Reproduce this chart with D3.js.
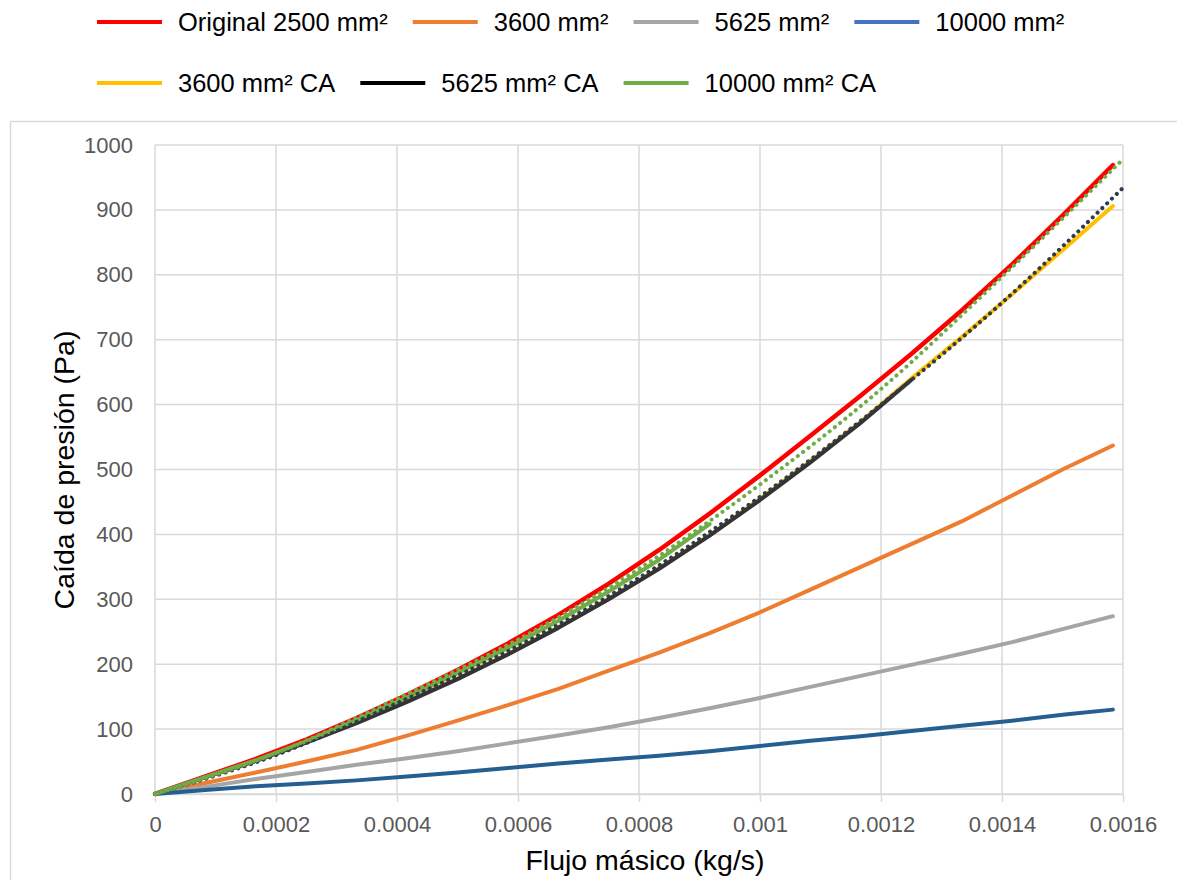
<!DOCTYPE html>
<html>
<head>
<meta charset="utf-8">
<script src="https://cdn.jsdelivr.net/npm/d3@7"></script>
<style>
  html, body { margin: 0; padding: 0; background: #fff; }
  svg { display: block; font-family: "Liberation Sans", Arial, sans-serif; }
</style>
</head>
<body>
<svg id="chart" width="1177" height="880"></svg>
<script>
// Mass flow values (kg/s) at which every series was evaluated
const massFlow = [0, 0.0000833, 0.0001667, 0.00025, 0.0003333, 0.0004167, 0.0005,
  0.0005833, 0.0006667, 0.00075, 0.0008333, 0.0009167, 0.001, 0.0010833,
  0.0011667, 0.00125, 0.0013333, 0.0014167, 0.0015, 0.0015833];

// Pressure drop (Pa) for each channel cross-section
const original2500 = [0, 27, 54, 84, 117, 153, 191, 232, 276, 324, 376, 432, 491, 552, 614, 678, 745, 816, 891, 969];
const area3600 = [0, 17, 33, 50, 68, 90, 113, 137, 162, 190, 218, 248, 280, 315, 350, 385, 420, 460, 500, 537];
const area5625 = [0, 11, 23, 34, 45, 55, 66, 78, 90, 103, 117, 132, 148, 165, 182, 199, 216, 234, 254, 274];
const area10000 = [0, 6, 12, 16, 21, 27, 33, 40, 47, 53, 59, 66, 74, 82, 89, 97, 105, 113, 122, 130];
const area3600CA = [0, 26, 51, 80, 110, 143, 178, 216, 257, 301, 348, 399, 455, 513, 574, 640, 704, 770, 838, 906];
const area5625CA = [0, 26, 51, 79, 109, 142, 177, 215, 256, 300, 347, 398, 453, 511, 572, 638];
const area10000CA = [0, 26, 52, 81, 114, 149, 186, 225, 267, 312, 361, 416];

// Trend curves of the CA series, extended over the full flow range
const trendFlow = [0, 0.0002, 0.0004, 0.0006, 0.0008, 0.001, 0.0012, 0.0014, 0.0016];
const trend5625CA = [0, 60, 140, 228, 333, 458, 600, 757, 934];
const trend10000CA = [0, 63, 147, 238, 347, 477, 624, 797, 978];

// Axis ticks
const xTicks = [0, 0.0002, 0.0004, 0.0006, 0.0008, 0.001, 0.0012, 0.0014, 0.0016];
const xTickLabels = ["0", "0.0002", "0.0004", "0.0006", "0.0008", "0.001", "0.0012", "0.0014", "0.0016"];
const yTicks = [0, 100, 200, 300, 400, 500, 600, 700, 800, 900, 1000];

const seriesNames = ["Original 2500 mm²", "3600 mm²", "5625 mm²", "10000 mm²", "3600 mm² CA", "5625 mm² CA", "10000 mm² CA"];
const seriesValues = [original2500, area3600, area5625, area10000, area3600CA, area5625CA, area10000CA];
const lineColors = ["#ff0000", "#ed7d31", "#a5a5a5", "#255e91", "#ffc000", "#333333", "#70ad47"];
const legendColors = ["#ff0000", "#ed7d31", "#a5a5a5", "#4472c4", "#ffc000", "#000000", "#70ad47"];

const svg = d3.select("#chart");
const plot = { left: 155, right: 1123, top: 145, bottom: 794 };

const x = d3.scaleLinear().domain([0, 0.0016]).range([plot.left, plot.right]);
const y = d3.scaleLinear().domain([0, 1000]).range([plot.bottom, plot.top]);

// Chart area frame
svg.append("rect")
  .attr("x", 10.5).attr("y", 121.5)
  .attr("width", 1200).attr("height", 800)
  .attr("fill", "#fff").attr("stroke", "#d9d9d9").attr("stroke-width", 1.5);

// Gridlines
const grid = svg.append("g").attr("stroke", "#d9d9d9").attr("stroke-width", 1.5);
grid.selectAll("line.h").data(yTicks).join("line")
  .attr("x1", plot.left).attr("x2", plot.right)
  .attr("y1", d => y(d)).attr("y2", d => y(d));
grid.selectAll("line.v").data(xTicks).join("line")
  .attr("y1", plot.top).attr("y2", plot.bottom)
  .attr("x1", d => x(d)).attr("x2", d => x(d));

// X axis with outward ticks
const xAxis = svg.append("g")
  .attr("transform", `translate(0,${plot.bottom})`)
  .call(d3.axisBottom(x).tickValues(xTicks).tickFormat((d, i) => xTickLabels[i]).tickSize(8).tickPadding(14).tickSizeOuter(0));
xAxis.select(".domain").attr("stroke", "#d9d9d9").attr("stroke-width", 1.5);
xAxis.selectAll(".tick line").attr("stroke", "#d9d9d9").attr("stroke-width", 1.5);
xAxis.selectAll(".tick text").attr("fill", "#595959").style("font-size", "22px")
  .style("font-family", "'Liberation Sans', Arial, sans-serif");

// Y axis labels only
const yAxis = svg.append("g")
  .attr("transform", `translate(${plot.left},0)`)
  .call(d3.axisLeft(y).tickValues(yTicks).tickFormat(d3.format("d")).tickSize(0).tickPadding(22));
yAxis.select(".domain").remove();
yAxis.selectAll(".tick text").attr("fill", "#595959").style("font-size", "22px")
  .style("font-family", "'Liberation Sans', Arial, sans-serif");

// Data lines
const line = d3.line().x(d => x(d[0])).y(d => y(d[1]));
seriesValues.forEach((vals, i) => {
  svg.append("path")
    .datum(vals.map((v, j) => [massFlow[j], v]))
    .attr("d", line)
    .attr("fill", "none")
    .attr("stroke", lineColors[i])
    .attr("stroke-width", i === 0 ? 4.5 : 4)
    .attr("stroke-linejoin", "round")
    .attr("stroke-linecap", "round");
});

// Dotted trend curves
const trendLine = d3.line().curve(d3.curveMonotoneX).x(d => x(d[0])).y(d => y(d[1]));
[[trend5625CA, "#2e3a4f"], [trend10000CA, "#70ad47"]].forEach(([vals, color]) => {
  svg.append("path")
    .datum(vals.map((v, j) => [trendFlow[j], v]))
    .attr("d", trendLine)
    .attr("fill", "none")
    .attr("stroke", color)
    .attr("stroke-width", 4)
    .attr("stroke-linecap", "round")
    .attr("stroke-dasharray", "0.1 6.6");
});

// Axis titles
svg.append("text")
  .attr("x", 645).attr("y", 870)
  .attr("text-anchor", "middle")
  .attr("fill", "#000")
  .style("font-size", "28.5px")
  .text("Flujo másico (kg/s)");

svg.append("text")
  .attr("transform", "translate(74,470) rotate(-90)")
  .attr("text-anchor", "middle")
  .attr("fill", "#000")
  .style("font-size", "28.5px")
  .text("Caída de presión (Pa)");

// Legend, two left-aligned rows
const legendRows = [[0, 1, 2, 3], [4, 5, 6]];
const legendY = [22, 83];
legendRows.forEach((row, r) => {
  let cx = 97;
  row.forEach(i => {
    const g = svg.append("g");
    g.append("line")
      .attr("x1", cx).attr("x2", cx + 65)
      .attr("y1", legendY[r]).attr("y2", legendY[r])
      .attr("stroke", legendColors[i]).attr("stroke-width", 4);
    const t = g.append("text")
      .attr("x", cx + 81).attr("y", legendY[r] + 9)
      .attr("fill", "#000")
      .style("font-size", "25.5px")
      .text(seriesNames[i]);
    cx = cx + 81 + t.node().getComputedTextLength() + 25;
  });
});
</script>
</body>
</html>
